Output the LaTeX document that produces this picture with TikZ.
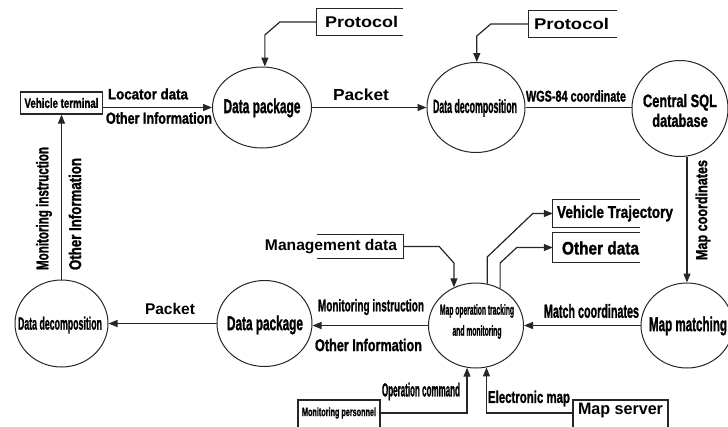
\documentclass[tikz,border=0pt]{standalone}
\usepackage{fontspec}
\setmainfont{Liberation Sans}
\newfontfamily\nf{Liberation Sans}[UprightFeatures={FakeBold=1.5},BoldFeatures={FakeBold=1.5}]
\usepackage{graphicx}
\usetikzlibrary{arrows.meta,shapes.geometric,calc}
\newcommand\W[2]{\resizebox{#1pt}{\height}{#2}}
\tikzset{
  ln/.style={line width=1.2pt,black!85},
  arr/.style={ln,-{Triangle[length=9pt,width=7pt]}},
  proc/.style={ellipse,draw,line width=1pt,inner sep=0pt,black!85},
  box/.style={draw,line width=1.2pt,inner sep=0pt,black!85},
  store/.style={inner sep=0pt},
  sz/.style={inner sep=0pt,font=\fontsize{#1}{#1}\selectfont\bfseries},
  nz/.style={inner sep=0pt,font=\nf\fontsize{#1}{#1}\selectfont\bfseries},
}
\begin{document}
\begin{tikzpicture}[x=1pt,y=-1pt]
\useasboundingbox (0,0) rectangle (728,426);
\clip (0,0) rectangle (728,426);

% processes
\node[proc,minimum width=99pt,minimum height=81pt] (dp) at (262,107.5) {};
\node[nz=20] (dpT) at (262,108) {\W{77}{Data package}};
\node[proc,minimum width=98pt,minimum height=90pt] (dd) at (476,107.5) {};
\node[nz=19] (ddT) at (475,108) {\W{84}{Data decomposition}};
\node[proc,minimum width=96pt,minimum height=96pt] (sql) at (680,108.5) {};
\node[nz=18] (sqlT) at (680,113) {\W{74}{\fontsize{18}{18}\selectfont\def\arraystretch{1.1}\begin{tabular}{@{}c@{}}Central SQL\\database\end{tabular}}};
\node[proc,minimum width=92pt,minimum height=85pt] (mm) at (687,325.5) {};
\node[nz=20] (mmT) at (688,326) {\W{78}{Map matching}};
\node[proc,minimum width=95pt,minimum height=85pt] (mo) at (476,325.5) {};
\node[nz=14.5] (moT) at (477,321) {\W{74}{\fontsize{14.5}{21}\selectfont\begin{tabular}{@{}c@{}}Map operation tracking\\and monitoring\end{tabular}}};
\node[proc,minimum width=95pt,minimum height=86pt] (dp2) at (264.5,323.5) {};
\node[nz=20] (dp2T) at (265,325) {\W{76}{Data package}};
\node[proc,minimum width=93pt,minimum height=87pt] (dd2) at (61.5,323.5) {};
\node[nz=18] (dd2T) at (60,325) {\W{84}{Data decomposition}};

% terminals and stores
\node[box,minimum width=82pt,minimum height=22pt] (vt) at (61.5,103) {};
\node[nz=13.5] (vtT) at (61.5,103) {\W{74}{Vehicle terminal}};
\node[store,minimum width=86pt,minimum height=26pt] (p1) at (360,22) {};
\draw[ln] (p1.north east) -- (p1.north west) -- (p1.south west) -- (p1.south east);
\node[sz=15.5] (p1T) at (361.5,22) {\W{73}{Protocol}};
\node[store,minimum width=88pt,minimum height=26pt] (p2) at (573,24) {};
\draw[ln] (p2.north east) -- (p2.north west) -- (p2.south west) -- (p2.south east);
\node[sz=15.5] (p2T) at (571.5,24) {\W{75}{Protocol}};
\node[store,minimum width=87pt,minimum height=27pt] (vtr) at (596.5,213.5) {};
\draw[ln] (vtr.north east) -- (vtr.north west) -- (vtr.south west) -- (vtr.south east);
\node[nz=17] (vtrT) at (615,213.5) {\W{116}{Vehicle Trajectory}};
\node[store,minimum width=87pt,minimum height=29pt] (od) at (596.5,247.5) {};
\draw[ln] (od.north east) -- (od.north west) -- (od.south west) -- (od.south east);
\node[nz=18] (odT) at (600.5,248) {\W{77}{Other data}};
\node[store,minimum width=86pt,minimum height=23pt] (md) at (360,246.5) {};
\draw[ln] (md.north west) -- (md.north east) -- (md.south east) -- (md.south west);
\node[sz=15.5] (mdT) at (331,247) {\W{132}{Management data}};
\node[box,minimum width=82pt,minimum height=30pt] (mp) at (339,415) {};
\node[nz=12] (mpT) at (339,413) {\W{74}{Monitoring personnel}};
\node[box,minimum width=95pt,minimum height=32pt] (ms) at (620.5,416) {};
\node[sz=16.5] (msT) at (620.5,411) {\W{85}{Map server}};

% connectors
\draw[arr] (vt.east |- dp.west) -- (dp.west);
\draw[arr] (p1.west) -- ++(-37,0) -- (dp.86 |- 0,35) -- (dp.86);
\draw[arr] (dp.east) -- (dd.west);
\draw[arr] (p2.west) -- ++(-38,0) -- (dd.89 |- 0,36) -- (dd.89);
\draw[ln] (dd.east) -- (dd.east -| sql.west);
\draw[arr] (mm.north |- sql.south) -- (mm.north);
\draw[arr] (mm.west) -- (mm.west -| mo.east);
\draw[arr] (mo.west) -- (mo.west -| dp2.east);
\draw[arr] (dp2.west) -- (dp2.west -| dd2.east);
\draw[arr] (dd2.north) -- (vt.south);
\draw[arr] (md.east) -- ++(36,0) -- (mo.120 |- 0,263) -- (mo.120);
\draw[arr] (mo.75) -- (mo.75 |- 0,257) -- ($(vtr.west)+(-20,0)$) -- (vtr.west);
\draw[arr] (mo.57) -- (mo.57 |- 0,263) -- ($(od.west)+(-36,0)$) -- (od.west);
\draw[arr] (mp.east |- 0,413) -- (mo.258 |- 0,413) -- (mo.258);
\draw[arr] (ms.west |- 0,413) -- (mo.284 |- 0,413) -- (mo.284);

% connector labels
\node[nz=15] (l1) at (148,94) {\W{80}{Locator data}};
\node[nz=16] (l2) at (159,118) {\W{106}{Other Information}};
\node[sz=16] (l3) at (361,95) {\W{56}{Packet}};
\node[nz=15.5] (l4) at (576,96) {\W{100}{WGS-84 coordinate}};
\node[nz=16,rotate=90] (l5) at (703,210) {\W{100}{Map coordinates}};
\node[nz=19] (l6) at (591.5,311) {\W{95}{Match coordinates}};
\node[nz=17] (l7) at (371,307) {\W{106}{Monitoring instruction}};
\node[nz=17] (l8) at (368.5,345) {\W{107}{Other Information}};
\node[sz=15.5] (l9) at (170,309) {\W{50}{Packet}};
\node[nz=17,rotate=90] (l10) at (44,208.5) {\W{123}{Monitoring instruction}};
\node[nz=17,rotate=90] (l11) at (75,214) {\W{112}{Other Information}};
\node[nz=19] (l12) at (421,391.5) {\W{78}{Operation command}};
\node[nz=17] (l13) at (529,398.5) {\W{82}{Electronic map}};
\end{tikzpicture}
\end{document}
